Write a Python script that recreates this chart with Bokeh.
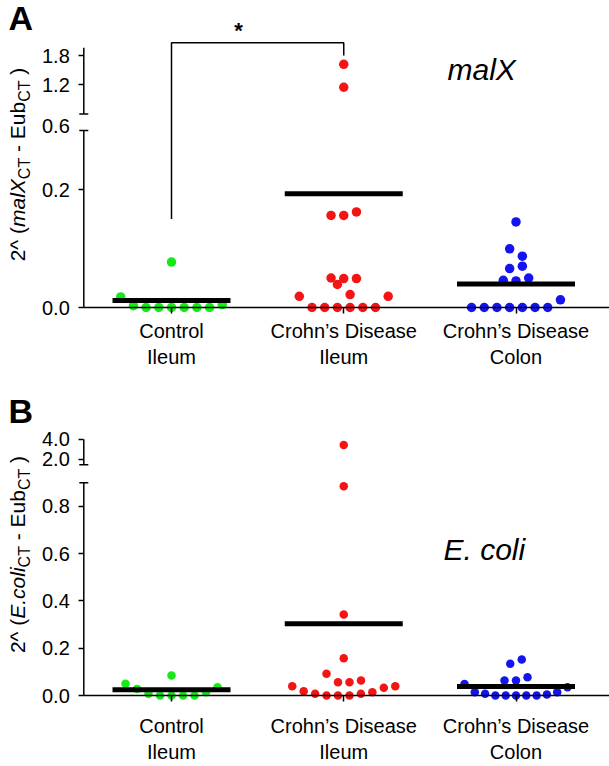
import numpy as np
from bokeh.plotting import figure
from bokeh.models import Range1d, LinearAxis, FixedTicker
from bokeh.layouts import column
from bokeh.embed import file_html
from bokeh.resources import INLINE
from bokeh.core.properties import value

# ---------------- data ----------------
categories = ["Control\nIleum", "Crohn\u2019s Disease\nIleum", "Crohn\u2019s Disease\nColon"]

malx_control = [0.018, 0.003, 0, 0, 0, 0, 0, 0, 0.005, 0.077]
malx_cd_ileum = [0.019, 0, 0, 0, 0, 0, 0, 0.019, 0.039, 0.022, 0.050, 0.049, 0.049,
                 0.156, 0.156, 0.162, 1.15, 1.62]
malx_cd_colon = [0, 0, 0, 0, 0, 0, 0, 0.013, 0.046, 0.045, 0.050, 0.066, 0.070,
                 0.0995, 0.087, 0.145]
malx_means = [0.012, 0.193, 0.040]

ecoli_control = [0.050, 0.028, 0.007, 0, 0, 0, 0, 0.014, 0.035, 0.085]
ecoli_cd_ileum = [0.039, 0.018, 0.007, 0, 0, 0, 0.007, 0.014, 0.033, 0.039, 0.092,
                  0.056, 0.056, 0.063, 0.158, 0.342, 0.885, 3.44]
ecoli_cd_colon = [0.049, 0.014, 0.007, 0, 0, 0, 0, 0, 0.004, 0.014, 0.035, 0.063,
                  0.063, 0.077, 0.134, 0.152]
ecoli_means = [0.024, 0.303, 0.038]

malx_ticks_lower = [0.0, 0.2]
malx_ticks_upper = [1.2, 1.8]
malx_break_label = "0.6"
ecoli_ticks_lower = [0.0, 0.2, 0.4, 0.6, 0.8]
ecoli_ticks_upper = [2.0, 4.0]

# significance bracket (panel A): left end, right end, top
sig_left, sig_right, sig_top = 0.15, 1.8, 2.06

colors = ["#14ea14", "#f41414", "#1414f2"]
FONT = "Liberation Sans"
NB = "\u00a0"

# ---------------- layout constants ----------------
W = 609
PX_X = 172.25                      # pixels per category step
X_START = 1 - 171 / PX_X
X_END = X_START + W / PX_X
AXIS_X = X_START + 83.3 / PX_X
MID = 0.3465                        # box-middle height above baseline (em)


def px_x(page_x):
    return X_START + page_x / PX_X


def make_tf(lo_scale, lo_max, hi_v0, hi_d0, hi_scale):
    def tf(v):
        if v <= lo_max:
            return v * lo_scale
        return hi_d0 + (v - hi_v0) * hi_scale
    return tf


CW = {'2': 0.556, '^': 0.469, ' ': 0.278, NB: 0.278, '(': 0.333, ')': 0.333, 'm': 0.833,
      'a': 0.556, 'l': 0.222, 'X': 0.667, 'C': 0.722, 'T': 0.611, '-': 0.333, 'E': 0.667,
      'u': 0.556, 'b': 0.556, '.': 0.278, 'c': 0.5, 'o': 0.556, 'i': 0.222}


def tw(s, size):
    return sum(CW.get(ch, 0.55) for ch in s) * size


def swarm(values, tf, center, spacing_px, maxw_px, h=12.0):
    d = [tf(v) for v in values]
    order = sorted(range(len(values)), key=lambda i: d[i])
    rows, cur = [], []
    for i in order:
        if cur and d[i] - d[cur[0]] >= h:
            rows.append(cur)
            cur = []
        cur.append(i)
    if cur:
        rows.append(cur)
    xs = [0.0] * len(values)
    for row in rows:
        row = sorted(row)
        k = len(row)
        s = min(spacing_px, maxw_px / (k - 1)) if k > 1 else 0
        for j, i in enumerate(row):
            xs[i] = center + (j - (k - 1) / 2) * s / PX_X
    return xs, d


def style_axis(ax, tick_out, standoff, show_ticks=True):
    ax.major_tick_line_width = 1.5
    ax.major_tick_line_color = "black" if show_ticks else None
    ax.major_tick_out = tick_out
    ax.major_tick_in = 0
    ax.minor_tick_line_color = None
    ax.major_label_standoff = standoff
    ax.major_label_text_font = FONT
    ax.major_label_text_font_size = "20px"
    ax.major_label_text_color = "black"


def build_panel(height, baseline_off, groups, means, tf, lo_max, hi_v0, hi_max,
                ticks_lo, ticks_hi, break_label, letter, letter_d, gene, gene_x, gene_d,
                label_pieces, label_center, dot_size, spacing, x_standoff):
    y_end = baseline_off
    y_start = y_end - height
    p = figure(width=W, height=height, x_range=Range1d(X_START, X_END),
               y_range=Range1d(y_start, y_end), x_axis_type=None, y_axis_type=None,
               toolbar_location=None, output_backend="svg", min_border=0)
    p.outline_line_color = None
    p.background_fill_color = "white"

    # x axis
    xa = LinearAxis(ticker=FixedTicker(ticks=[1, 2, 3]),
                    major_label_overrides={i + 1: c for i, c in enumerate(categories)},
                    fixed_location=0, bounds=(AXIS_X, X_END))
    xa.axis_line_width = 1.5
    xa.axis_line_color = "black"
    style_axis(xa, 6, x_standoff)
    p.add_layout(xa, "below")

    # y axis with ticks (axis line drawn separately because it is broken)
    tick_vals = list(ticks_lo) + list(ticks_hi)
    tick_pos = [tf(v) for v in tick_vals]
    ya = LinearAxis(ticker=FixedTicker(ticks=tick_pos),
                    major_label_overrides={tp: f"{v:.1f}" for tp, v in zip(tick_pos, tick_vals)},
                    fixed_location=AXIS_X)
    ya.axis_line_color = None
    style_axis(ya, 5, 9)
    p.add_layout(ya, "left")

    d_lo_top = tf(lo_max)
    d_hi_bot = tf(hi_v0)
    d_hi_top = tf(hi_max)
    if break_label:
        gap_pos = (d_lo_top + d_hi_bot) / 2 - 3.5
        yb = LinearAxis(ticker=FixedTicker(ticks=[gap_pos]),
                        major_label_overrides={gap_pos: break_label},
                        fixed_location=AXIS_X)
        yb.axis_line_color = None
        style_axis(yb, 5, 9, show_ticks=False)
        p.add_layout(yb, "left")

    # broken y axis line + break caps
    cap = 4.5 / PX_X
    p.segment(x0=[AXIS_X, AXIS_X], x1=[AXIS_X, AXIS_X], y0=[0, d_hi_bot],
              y1=[d_lo_top, d_hi_top], line_width=1.5, color="black")
    p.segment(x0=[AXIS_X - cap, AXIS_X - cap], x1=[AXIS_X + cap, AXIS_X + cap],
              y0=[d_lo_top, d_hi_bot], y1=[d_lo_top, d_hi_bot], line_width=1.5, color="black")

    # dots
    for gi, vals in enumerate(groups):
        xs, ds = swarm(vals, tf, gi + 1, spacing, 103)
        p.scatter(xs, ds, size=dot_size, fill_color=colors[gi], line_color=None)

    # mean bars
    hw = 59 / PX_X
    centers = [1, 2, 3]
    p.segment(x0=[c - hw for c in centers], x1=[c + hw for c in centers],
              y0=[tf(m) for m in means], y1=[tf(m) for m in means],
              line_width=5, color="black", line_cap="butt")

    # panel letter and gene name (y given at cap centre)
    p.text(x=[px_x(8)], y=[letter_d], text=[letter], text_font=value(FONT),
           text_font_size="34px", text_font_style="bold", text_color="black",
           text_align="left", text_baseline="middle")
    p.text(x=[px_x(gene_x)], y=[gene_d], text=[gene], text_font=value(FONT),
           text_font_size="30px", text_font_style="italic", text_color="black",
           text_align="left", text_baseline="middle")

    # rotated y-axis title built from pieces (with subscripts)
    total = sum(tw(t, 16 if sub else 21) for t, it, sub in label_pieces)
    y0 = label_center - total / 2
    for t, it, sub in label_pieces:
        size = 16 if sub else 21
        base_x = 30 if sub else 24
        bx = base_x - MID * size
        p.text(x=[px_x(bx)], y=[y0], text=[t], angle=np.pi / 2, text_font=value(FONT),
               text_font_size=f"{size}px", text_font_style="italic" if it else "normal",
               text_color="black", text_align="left", text_baseline="middle")
        y0 += tw(t, size)
    return p


tfA = make_tf(590, 0.3, 0.6, 193.4, 48.8)
pA = build_panel(388, 307, [malx_control, malx_cd_ileum, malx_cd_colon], malx_means, tfA,
                 0.3, 0.6, 1.96, malx_ticks_lower, malx_ticks_upper, malx_break_label,
                 "A", 289.5, "malX", 447, 238.3,
                 [("2^" + NB + "(", False, False), ("malX", True, False), ("CT", False, True),
                  (NB + "-" + NB + "Eub", False, False), ("CT", False, True), (NB + ")", False, False)],
                 143, 9.5, 12.7, 6)

# significance bracket and star
pA.line(x=[1, 1, 2, 2], y=[tfA(sig_left), tfA(sig_top), tfA(sig_top), tfA(sig_right)],
        line_width=1.5, color="black")
pA.text(x=[px_x(238)], y=[tfA(sig_top) + 12.5], text=["*"], text_font=value(FONT),
        text_font_size="22px", text_font_style="bold", text_color="black",
        text_align="center", text_baseline="middle")

tfB = make_tf(236.5, 0.9, 1.45, 230.7, 10.0)
pB = build_panel(377, 307, [ecoli_control, ecoli_cd_ileum, ecoli_cd_colon], ecoli_means, tfB,
                 0.9, 1.45, 4.0, ecoli_ticks_lower, ecoli_ticks_upper, None,
                 "B", 285, "E. coli", 443, 146.5,
                 [("2^" + NB + "(", False, False), ("E.coli", True, False), ("CT", False, True),
                  (NB + "-" + NB + "Eub", False, False), ("CT", False, True), (NB + ")", False, False)],
                 141, 8.5, 11.5, 13)

layout = column(pA, pB)
open("out.html", "w").write(file_html(layout, INLINE))
